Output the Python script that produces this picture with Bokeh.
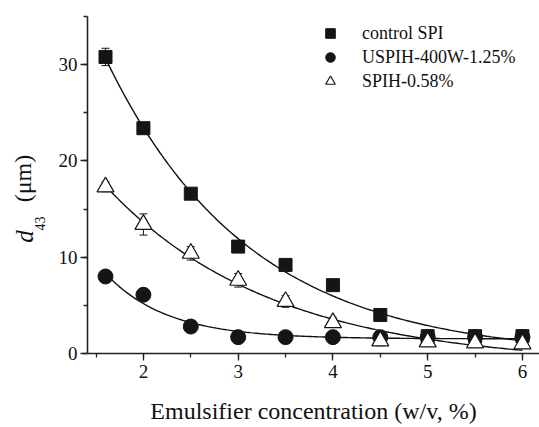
import numpy as np
from bokeh.plotting import figure
from bokeh.layouts import row
from bokeh.models import (Range1d, SingleIntervalTicker, Legend, LegendItem,
                          ColumnDataSource, Whisker, TeeHead)
from bokeh.core.properties import value
from bokeh.embed import file_html
from bokeh.resources import INLINE

# ---- data ----
conc = [1.6, 2.0, 2.5, 3.0, 3.5, 4.0, 4.5, 5.0, 5.5, 6.0]
control_spi = [30.8, 23.4, 16.6, 11.1, 9.2, 7.1, 4.0, 1.8, 1.8, 1.8]
control_err = [0.9, 0.3, 0.3, 0.3, 0.2, 0.2, 0.2, 0.1, 0.1, 0.1]
uspih = [8.0, 6.1, 2.8, 1.7, 1.7, 1.7, 1.7, 1.7, 1.7, 1.7]
uspih_err = [0.2, 0.2, 0.2, 0.1, 0.1, 0.1, 0.1, 0.1, 0.1, 0.1]
spih = [17.3, 13.4, 10.4, 7.6, 5.4, 3.2, 1.3, 1.2, 1.1, 1.0]
spih_err = [0.5, 1.1, 0.7, 0.7, 0.6, 0.5, 0.5, 0.4, 0.3, 0.3]
series_names = ["control SPI", "USPIH-400W-1.25%", "SPIH-0.58%"]
y_label_parts = ["d", "43", "(μm)"]
x_label = "Emulsifier concentration (w/v, %)"
x_ticks_interval = 1
y_ticks_interval = 10

FONT = "Liberation Serif"
X0, X1 = 1.41, 6.18
Y0, Y1 = 0, 35
W, H = 539, 427
LW = 48                      # width of the strip holding the y-axis title
L, R, T, B = 87, 539, 16, 353


def fit_exp(x, y):
    """least-squares fit y = c + A*exp(-k*(x-x0))"""
    x = np.asarray(x, float)
    y = np.asarray(y, float)
    x0 = x.min()
    best = None
    for k in np.linspace(0.05, 6, 3000):
        Bm = np.column_stack([np.exp(-k * (x - x0)), np.ones_like(x)])
        coef, *_ = np.linalg.lstsq(Bm, y, rcond=None)
        sse = float(((Bm @ coef - y) ** 2).sum())
        if best is None or sse < best[0]:
            best = (sse, k, coef)
    _, k, (A, c) = best
    xs = np.linspace(x0, x.max(), 200)
    return xs, c + A * np.exp(-k * (xs - x0))


# ---- strip for the rotated y-axis title (its frame is aligned with the main frame) ----
lab = figure(width=LW, height=H, output_backend="svg", toolbar_location=None,
             x_range=Range1d(0, LW), y_range=Range1d(H - B, H - T),
             min_border_left=0, min_border_right=0, min_border_top=T,
             min_border_bottom=H - B, x_axis_type=None, y_axis_type=None)
lab.outline_line_color = None
lab.grid.visible = False
lab.text(x=[24], y=[H - 236], text=[y_label_parts[0]], angle=np.pi / 2,
         text_font=value(FONT), text_font_style="italic", text_font_size="25px",
         text_align="center", text_baseline="middle", text_color="#111111")
lab.text(x=[39], y=[H - 223], text=[y_label_parts[1]], angle=np.pi / 2,
         text_font=value(FONT), text_font_size="14px",
         text_align="center", text_baseline="middle", text_color="#111111")
lab.text(x=[22], y=[H - 178], text=[y_label_parts[2]], angle=np.pi / 2,
         text_font=value(FONT), text_font_size="24px",
         text_align="center", text_baseline="middle", text_color="#111111")

# ---- main plot ----
p = figure(width=W - LW, height=H, output_backend="svg", toolbar_location=None,
           x_range=Range1d(X0, X1), y_range=Range1d(Y0, Y1),
           min_border_left=L - LW, min_border_right=W - R, min_border_top=T,
           min_border_bottom=H - B)
p.outline_line_color = None
p.grid.visible = False
p.background_fill_color = "white"
p.border_fill_color = "white"

for ax in (p.xaxis[0], p.yaxis[0]):
    ax.axis_line_color = "#222222"
    ax.axis_line_width = 1.6
    ax.major_tick_line_color = "#222222"
    ax.minor_tick_line_color = "#222222"
    ax.major_tick_line_width = 1.3
    ax.minor_tick_line_width = 1.3
    ax.major_tick_in = 0
    ax.major_tick_out = 7
    ax.minor_tick_in = 0
    ax.minor_tick_out = 4
    ax.major_label_text_font = FONT
    ax.major_label_text_font_size = "19px"
    ax.major_label_text_color = "#111111"

p.xaxis[0].ticker = SingleIntervalTicker(interval=x_ticks_interval, num_minor_ticks=2)
p.yaxis[0].ticker = SingleIntervalTicker(interval=y_ticks_interval, num_minor_ticks=2)
p.xaxis[0].major_label_standoff = 4
p.yaxis[0].major_label_standoff = 3
p.xaxis[0].axis_label = x_label
p.xaxis[0].axis_label_text_font = FONT
p.xaxis[0].axis_label_text_font_style = "normal"
p.xaxis[0].axis_label_text_font_size = "24px"
p.xaxis[0].axis_label_text_color = "#111111"
p.xaxis[0].axis_label_standoff = 17

# fitted curves
for ys in (control_spi, uspih, spih):
    fx, fy = fit_exp(conc, ys)
    p.line(fx, fy, line_color="#111111", line_width=1.4)

src = ColumnDataSource(dict(x=conc, c=control_spi, u=uspih, s=spih,
                            c_lo=np.array(control_spi) - np.array(control_err),
                            c_hi=np.array(control_spi) + np.array(control_err),
                            u_lo=np.array(uspih) - np.array(uspih_err),
                            u_hi=np.array(uspih) + np.array(uspih_err),
                            s_lo=np.array(spih) - np.array(spih_err),
                            s_hi=np.array(spih) + np.array(spih_err)))

r_sq = p.scatter("x", "c", source=src, marker="square", size=13,
                 fill_color="#151515", line_color="#151515")
r_ci = p.scatter("x", "u", source=src, marker="circle", size=15,
                 fill_color="#151515", line_color="#151515")
r_tr = p.scatter("x", "s", source=src, marker="triangle", size=17,
                 fill_color="white", line_color="#151515", line_width=1.2)

for lo, hi in (("c_lo", "c_hi"), ("u_lo", "u_hi"), ("s_lo", "s_hi")):
    w = Whisker(source=src, base="x", lower=lo, upper=hi, line_color="#151515",
                line_width=1,
                upper_head=TeeHead(size=8, line_color="#151515", line_width=1),
                lower_head=TeeHead(size=8, line_color="#151515", line_width=1))
    p.add_layout(w)

legend = Legend(items=[LegendItem(label=series_names[0], renderers=[r_sq]),
                       LegendItem(label=series_names[1], renderers=[r_ci]),
                       LegendItem(label=series_names[2], renderers=[r_tr])],
                location=(231, 260), padding=0, margin=0, spacing=0,
                glyph_width=24, glyph_height=24, label_standoff=20,
                label_text_font=FONT, label_text_font_size="18px",
                label_text_color="#111111", label_height=24,
                background_fill_alpha=0, border_line_color=None)
p.add_layout(legend)

layout = row(lab, p, spacing=0)
open("out.html", "w").write(file_html(layout, INLINE))
